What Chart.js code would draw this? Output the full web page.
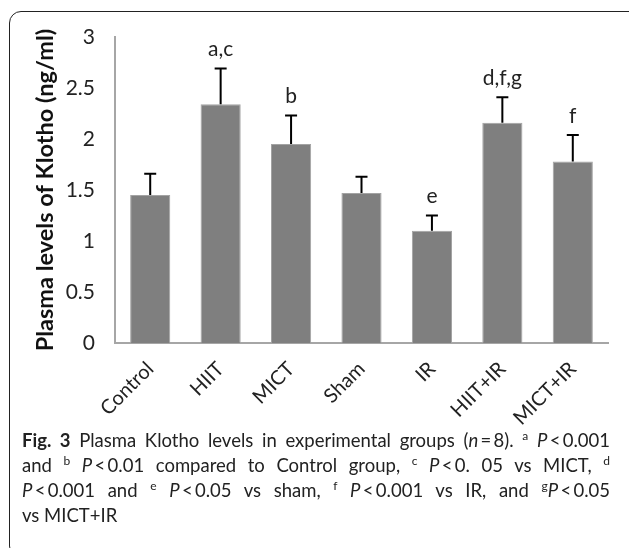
<!DOCTYPE html>
<html>
<head>
<meta charset="utf-8">
<script src="https://cdn.jsdelivr.net/npm/chart.js@4"></script>
<style>
  html, body { margin: 0; background: #fff; overflow: hidden; }
  #wrap { position: relative; width: 629px; height: 548px; overflow: hidden; }
  #chart { position: absolute; left: 0; top: 0; }
  #frame {
    position: absolute; left: 9px; top: 11px; width: 640px; height: 545px;
    border: 1.5px solid #222; border-radius: 12px; pointer-events: none;
  }
  #caption {
    position: absolute; left: 22px; top: 428px; width: 588px;
    font-family: Lato, sans-serif; font-size: 18.5px; line-height: 25px; color: #222;
  }
  #caption .ln { text-align: justify; text-align-last: justify; white-space: nowrap; }
  #caption .ln.last { text-align-last: left; }
  #caption sup { font-size: 12px; line-height: 0; }
</style>
</head>
<body>
<div id="wrap">
  <canvas id="chart" width="629" height="430"></canvas>
  <div id="frame"></div>
  <div id="caption">
    <div class="ln"><b>Fig. 3</b> Plasma Klotho levels in experimental groups (<i>n</i>&#8201;=&#8201;8). <sup>a</sup> <i>P</i>&#8201;&lt;&#8201;0.001</div>
    <div class="ln">and <sup>b</sup> <i>P</i>&#8201;&lt;&#8201;0.01 compared to Control group, <sup>c</sup> <i>P</i>&#8201;&lt;&#8201;0. 05 vs MICT, <sup>d</sup></div>
    <div class="ln"><i>P</i>&#8201;&lt;&#8201;0.001 and <sup>e</sup> <i>P</i>&#8201;&lt;&#8201;0.05 vs sham, <sup>f</sup> <i>P</i>&#8201;&lt;&#8201;0.001 vs IR, and <sup>g</sup><i>P</i>&#8201;&lt;&#8201;0.05</div>
    <div class="ln last">vs MICT+IR</div>
  </div>
</div>
<script>
// chart data
const groups = ['Control', 'HIIT', 'MICT', 'Sham', 'IR', 'HIIT+IR', 'MICT+IR'];
const klotho = [1.45, 2.34, 1.95, 1.47, 1.10, 2.16, 1.78];
const sd = [0.21, 0.35, 0.28, 0.16, 0.15, 0.25, 0.26];
const marks = ['', 'a,c', 'b', '', 'e', 'd,f,g', 'f'];
const yTicks = ['0', '0.5', '1', '1.5', '2', '2.5', '3'];

// error bars + significance letters
const errorBars = {
    id: 'errorBars',
    afterDatasetsDraw(chart) {
        const ctx = chart.ctx;
        const y = chart.scales.y;
        const meta = chart.getDatasetMeta(0);
        ctx.save();
        ctx.strokeStyle = '#000';
        ctx.lineWidth = 2;
        meta.data.forEach((bar, i) => {
            const top = y.getPixelForValue(klotho[i] + sd[i]);
            ctx.beginPath();
            ctx.moveTo(bar.x, bar.y);
            ctx.lineTo(bar.x, top);
            ctx.moveTo(bar.x - 6, top);
            ctx.lineTo(bar.x + 6, top);
            ctx.stroke();
            if (marks[i]) {
                ctx.fillStyle = '#222';
                ctx.font = '21px Lato';
                ctx.textAlign = 'center';
                ctx.textBaseline = 'middle';
                ctx.fillText(marks[i], bar.x, top - 19);
            }
        });
        ctx.restore();
    }
};

new Chart(document.getElementById('chart'), {
    type: 'bar',
    data: {
        labels: groups,
        datasets: [{
            data: klotho,
            backgroundColor: '#7f7f7f',
            borderColor: '#a3a3a3',
            borderWidth: 1,
            categoryPercentage: 1,
            barPercentage: 0.57
        }]
    },
    options: {
        responsive: false,
        animation: false,
        devicePixelRatio: 1,
        layout: { padding: { left: 0, top: 37, right: 21, bottom: 0 } },
        plugins: { legend: { display: false }, tooltip: { enabled: false } },
        scales: {
            x: {
                grid: { display: false },
                border: { display: true, color: '#a6a6a6', width: 2 },
                ticks: {
                    color: '#222', font: { family: 'Lato', size: 20 },
                    minRotation: 45, maxRotation: 45, padding: 6
                },
                afterFit: s => { s.height = 87; }
            },
            y: {
                min: 0, max: 3,
                grid: { display: false },
                border: { display: true, color: '#a6a6a6', width: 2 },
                ticks: {
                    stepSize: 0.5, color: '#222', padding: 12,
                    font: { family: 'Lato', size: 21 },
                    callback: (v, i) => yTicks[i]
                },
                title: {
                    display: true, text: 'Plasma levels of Klotho (ng/ml)',
                    color: '#111', font: { family: 'Lato', size: 23.5, weight: 'bold' },
                    padding: { top: 31, bottom: 0 }
                },
                afterFit: s => { s.width = 115; }
            }
        }
    },
    plugins: [errorBars]
});
</script>
</body>
</html>
